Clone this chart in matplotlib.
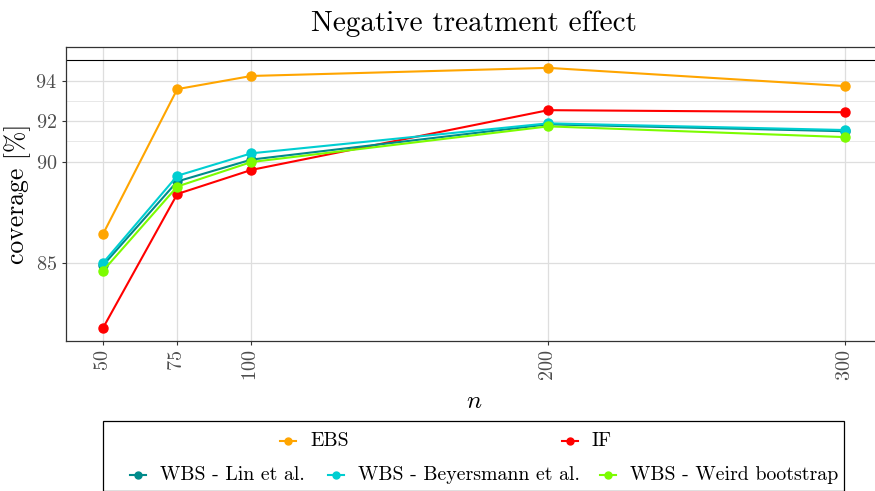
import matplotlib
matplotlib.use("Agg")
import matplotlib.pyplot as plt
from matplotlib.lines import Line2D
from matplotlib.patches import Rectangle

plt.rcParams["font.family"] = ["cmr10", "DejaVu Serif"]
plt.rcParams["mathtext.fontset"] = "cm"
plt.rcParams["axes.formatter.use_mathtext"] = True

n = [50, 75, 100, 200, 300]
coverage = {
    "EBS": [86.43, 93.58, 94.23, 94.63, 93.73],
    "IF": [81.79, 88.40, 89.59, 92.54, 92.44],
    "WBS - Lin et al.": [84.88, 89.02, 90.10, 91.84, 91.50],
    "WBS - Beyersmann et al.": [85.00, 89.30, 90.41, 91.89, 91.56],
    "WBS - Weird bootstrap": [84.61, 88.77, 89.98, 91.74, 91.21],
}
colors = {
    "EBS": "#FFA500",
    "IF": "#FF0000",
    "WBS - Lin et al.": "#008B8B",
    "WBS - Beyersmann et al.": "#00CED1",
    "WBS - Weird bootstrap": "#7CFC00",
}
nominal = 95
y_major = [85, 90, 92, 94]
y_minor = [91, 93]

W, H = 875, 491
fig = plt.figure(figsize=(W / 100, H / 100), dpi=100)
# panel runs a little past the right edge of the canvas
ax = fig.add_axes([66 / W, (H - 341) / H, (882 - 66) / W, (341 - 47) / H])

for name, vals in coverage.items():
    ax.plot(n, vals, color=colors[name], lw=1.5, marker="o", ms=6.5,
            zorder=3)
ax.axhline(nominal, color="black", lw=0.8, zorder=2)

ax.set_xlim(37.5, 312.5)
ax.set_ylim(81.14, 95.66)
ax.set_xticks(n)
ax.set_yticks(y_major)
ax.set_yticks(y_minor, minor=True)
ax.grid(True, which="major", color="#DEDEDE", lw=0.9)
ax.grid(True, which="minor", axis="y", color="#E8E8E8", lw=0.7)
ax.set_axisbelow(True)
ax.tick_params(axis="both", which="major", colors="#333333", length=3,
               width=0.8, labelsize=14.5, labelcolor="#4D4D4D")
ax.tick_params(axis="y", which="minor", length=0)
ax.tick_params(axis="x", labelrotation=90)
for s in ax.spines.values():
    s.set_color("#333333")
    s.set_linewidth(0.9)

ax.set_xlabel("$n$", fontsize=18, labelpad=7)
ax.set_ylabel("coverage [%]", fontsize=18.5, labelpad=3)
fig.text(474 / W, 1 - 24 / H, "Negative treatment effect", ha="center",
         va="center", fontsize=21)

# legend box, two rows of keys
fig.add_artist(Rectangle((103 / W, 0), (844 - 103) / W, (H - 421) / H,
                         transform=fig.transFigure, fill=False,
                         ec="black", lw=0.9))
keys = [
    ("EBS", 288, 441),
    ("IF", 570, 441),
    ("WBS - Lin et al.", 138, 475),
    ("WBS - Beyersmann et al.", 336, 475),
    ("WBS - Weird bootstrap", 608, 475),
]
for name, kx, ky in keys:
    fy = 1 - ky / H
    fig.add_artist(Line2D([(kx - 8) / W, (kx + 8) / W], [fy, fy],
                          transform=fig.transFigure, color=colors[name],
                          lw=1.5))
    fig.add_artist(Line2D([kx / W], [fy], transform=fig.transFigure,
                          color=colors[name], marker="o", ms=5))
    fig.text((kx + 22) / W, fy, name, ha="left", va="center", fontsize=14.3)

fig.savefig("out.png", dpi=100)
